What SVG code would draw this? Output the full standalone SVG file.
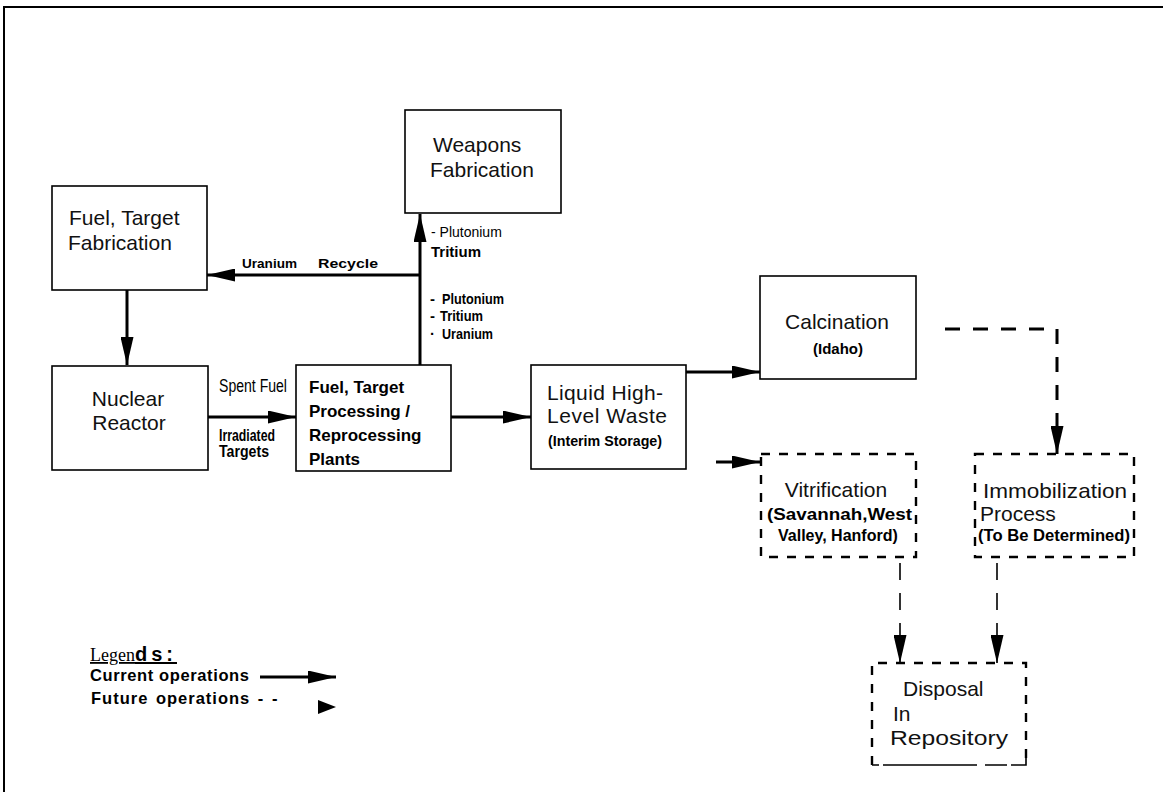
<svg xmlns="http://www.w3.org/2000/svg" width="1163" height="792" viewBox="0 0 1163 792">
<defs>
<marker id="ah" markerUnits="userSpaceOnUse" markerWidth="28" markerHeight="13" refX="28" refY="6.5" orient="auto">
<path d="M0,0 L28,6.5 L0,13 Z" fill="#000"/>
</marker>
<style>
.box{fill:#fff;stroke:#000;stroke-width:1.6}
.dbox{fill:none;stroke:#000;stroke-width:2.4;stroke-dasharray:9 9}
.ln{fill:none;stroke:#000;stroke-width:3}
.dl{fill:none;stroke:#000;stroke-width:3;stroke-dasharray:15 13}
.dv{fill:none;stroke:#000;stroke-width:1.6;stroke-dasharray:17 13}
.t{font-family:"Liberation Sans",Arial,sans-serif;font-size:21px;fill:#111}
.b{font-family:"Liberation Sans",Arial,sans-serif;font-weight:bold;fill:#000}
.n{font-family:"Liberation Sans",Arial,sans-serif;fill:#000}
</style>
</defs>
<rect x="0" y="0" width="1163" height="792" fill="#fff"/>
<path d="M4,792 V7 H1163" fill="none" stroke="#000" stroke-width="2"/>

<g id="connectors">
<line class="ln" x1="127" y1="290" x2="127" y2="365" marker-end="url(#ah)"/>
<line class="ln" x1="208" y1="417" x2="296" y2="417" marker-end="url(#ah)"/>
<line class="ln" x1="420" y1="365" x2="420" y2="214" marker-end="url(#ah)"/>
<line class="ln" x1="420" y1="275" x2="207" y2="275" marker-end="url(#ah)"/>
<line class="ln" x1="451" y1="417" x2="531" y2="417" marker-end="url(#ah)"/>
<line class="ln" x1="686" y1="372" x2="760" y2="372" marker-end="url(#ah)"/>
<path class="dl" d="M945,329 H1057 V454" marker-end="url(#ah)"/>
<line class="ln" x1="716" y1="462" x2="760" y2="462" marker-end="url(#ah)"/>
<line class="dv" x1="900" y1="563" x2="900" y2="663" marker-end="url(#ah)"/>
<line class="dv" x1="997" y1="563" x2="997" y2="663" marker-end="url(#ah)"/>
</g>

<g id="weapons">
<rect class="box" x="405" y="110" width="156" height="103"/>
<text class="t" x="433" y="152">Weapons</text>
<text class="t" x="430" y="177">Fabrication</text>
</g>

<g id="fuel-fab">
<rect class="box" x="52" y="186" width="155" height="104"/>
<text class="t" x="69" y="225">Fuel,  Target</text>
<text class="t" x="68" y="250">Fabrication</text>
</g>

<g id="reactor">
<rect class="box" x="52" y="366" width="156" height="104"/>
<text class="t" x="128" y="406" text-anchor="middle">Nuclear</text>
<text class="t" x="129" y="430" text-anchor="middle">Reactor</text>
</g>

<g id="processing">
<rect class="box" x="296" y="365" width="155" height="106"/>
<text class="b" x="309" y="393" font-size="17">Fuel,  Target</text>
<text class="b" x="309" y="417" font-size="17">Processing /</text>
<text class="b" x="309" y="441" font-size="17">Reprocessing</text>
<text class="b" x="309" y="465" font-size="17">Plants</text>
</g>

<g id="liquid">
<rect class="box" x="531" y="365" width="155" height="104"/>
<text class="t" x="547" y="400" textLength="116" lengthAdjust="spacing">Liquid  High-</text>
<text class="t" x="547" y="423" textLength="120" lengthAdjust="spacing">Level  Waste</text>
<text class="b" x="548" y="446" font-size="15" textLength="114" lengthAdjust="spacingAndGlyphs">(Interim   Storage)</text>
</g>

<g id="calcination">
<rect class="box" x="760" y="276" width="156" height="103"/>
<text class="t" x="837" y="329" text-anchor="middle" font-size="21.5">Calcination</text>
<text class="b" x="838" y="354" font-size="14" text-anchor="middle" textLength="50" lengthAdjust="spacingAndGlyphs">(Idaho)</text>
</g>

<g id="vitrification">
<rect class="dbox" x="761" y="454" width="155" height="103"/>
<text class="t" x="836" y="497" font-size="24" text-anchor="middle">Vitrification</text>
<text class="b" x="767" y="520" font-size="16" textLength="145" lengthAdjust="spacingAndGlyphs">(Savannah,West</text>
<text class="b" x="778" y="541" font-size="16">Valley,  Hanford)</text>
</g>

<g id="immobilization">
<rect class="dbox" x="975" y="454" width="159" height="103"/>
<text class="t" x="983" y="498" font-size="24" textLength="144" lengthAdjust="spacingAndGlyphs">Immobilization</text>
<text class="t" x="980" y="521" font-size="24">Process</text>
<text class="b" x="978" y="541" font-size="16" textLength="152" lengthAdjust="spacingAndGlyphs">(To Be Determined)</text>
</g>

<g id="disposal">
<path d="M872,765 V663 H1026 V760" class="dbox"/>
<path d="M872,765 H879 M883,765 H977 M985,765 H1007 M1011,765 H1026 V758" fill="none" stroke="#000" stroke-width="1.6"/>
<text class="t" x="903" y="696" font-size="23.5">Disposal</text>
<text class="t" x="893" y="721" font-size="23.5">In</text>
<text class="t" x="890" y="745" font-size="23.5" textLength="118" lengthAdjust="spacingAndGlyphs">Repository</text>
</g>

<g id="labels">
<text class="b" x="242" y="268" font-size="13" textLength="55" lengthAdjust="spacingAndGlyphs">Uranium</text>
<text class="b" x="318" y="268" font-size="13" textLength="60" lengthAdjust="spacingAndGlyphs">Recycle</text>
<text class="n" x="431" y="237" font-size="14">- Plutonium</text>
<text class="b" x="431" y="257" font-size="15">Tritium</text>
<text class="b" x="430" y="304" font-size="15">-</text>
<text class="b" x="442" y="304" font-size="15" textLength="62" lengthAdjust="spacingAndGlyphs">Plutonium</text>
<text class="b" x="430" y="321" font-size="15">-</text>
<text class="b" x="440" y="321" font-size="15" textLength="43" lengthAdjust="spacingAndGlyphs">Tritium</text>
<text class="b" x="430" y="339" font-size="15">·</text>
<text class="b" x="442" y="339" font-size="15" textLength="51" lengthAdjust="spacingAndGlyphs">Uranium</text>
<text class="n" x="219" y="392" font-size="18" textLength="68" lengthAdjust="spacingAndGlyphs">Spent Fuel</text>
<text class="b" x="219" y="441" font-size="16" textLength="56" lengthAdjust="spacingAndGlyphs">Irradiated</text>
<text class="b" x="219" y="457" font-size="16" textLength="50" lengthAdjust="spacingAndGlyphs">Targets</text>
</g>

<g id="legend">
<text x="90" y="661" font-family="'Liberation Serif',serif" font-size="18" text-decoration="underline">Legen<tspan font-family="'Liberation Sans',sans-serif" font-weight="bold" font-size="20" letter-spacing="4">ds:</tspan></text>
<text class="b" x="90" y="681" font-size="16.5" textLength="159" lengthAdjust="spacing">Current operations</text>
<line class="ln" x1="260" y1="677" x2="336" y2="677" marker-end="url(#ah)"/>
<text class="b" x="91" y="704" font-size="16.5" letter-spacing="1" word-spacing="2">Future  operations  -  -</text>
<path d="M318,700 L336,707 L318,714 Z" fill="#000"/>
</g>
</svg>
